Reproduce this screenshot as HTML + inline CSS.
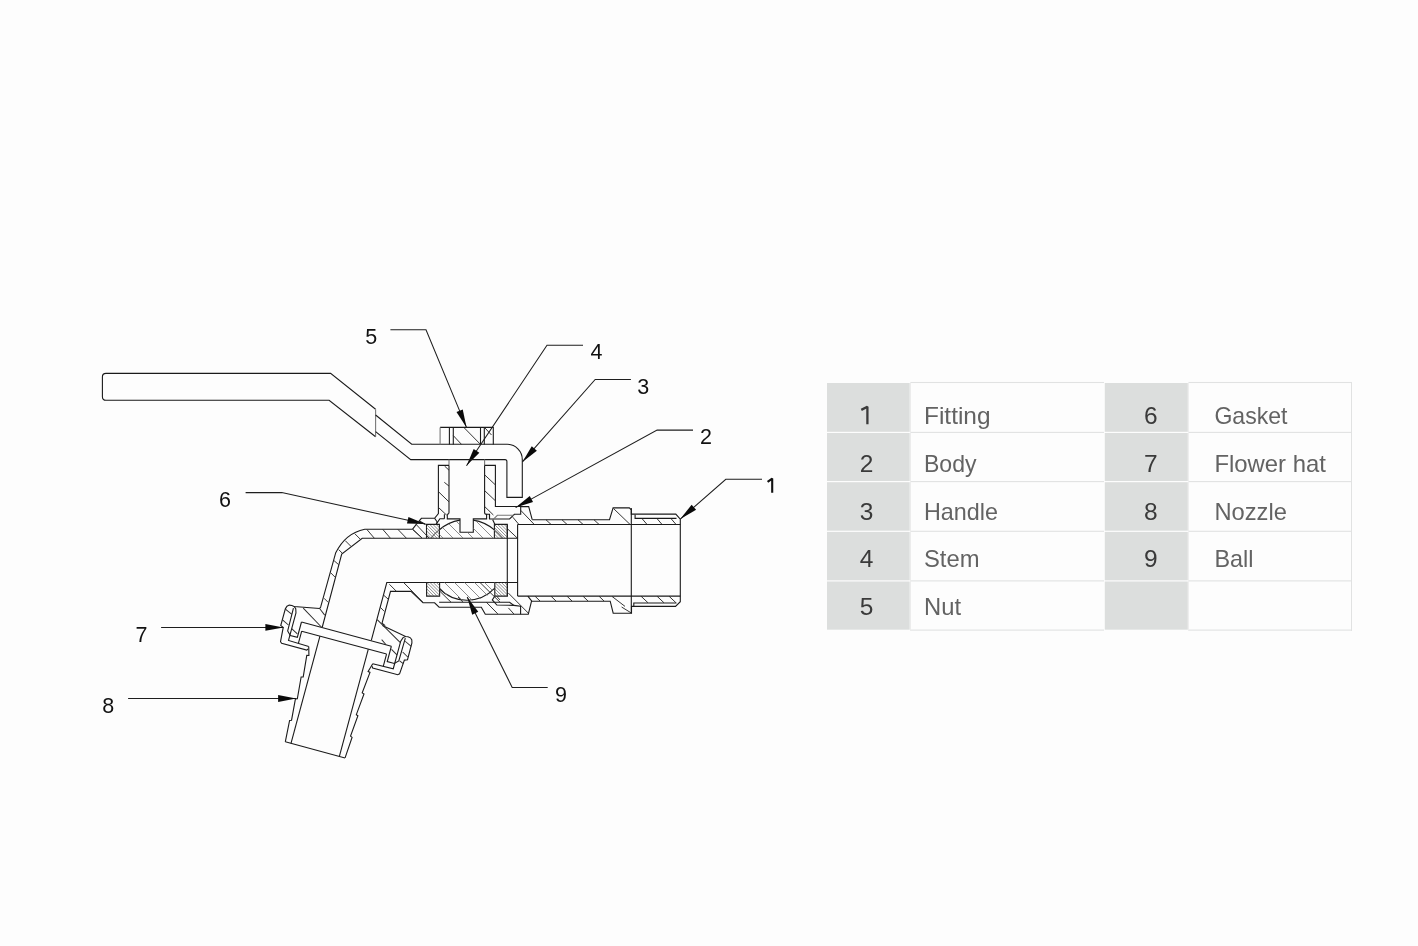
<!DOCTYPE html>
<html><head><meta charset="utf-8"><title>Ball valve tap</title>
<style>
html,body{margin:0;padding:0;background:#fdfdfd;width:1418px;height:946px;overflow:hidden}
svg{display:block;position:absolute;left:0;top:0;will-change:transform}
.m{fill:none;stroke:#1a1a1a;stroke-width:1.1;stroke-linejoin:miter;stroke-linecap:butt}
.h{fill:none;stroke:#2a2a2a;stroke-width:0.95}
.th{fill:none;stroke:#777;stroke-width:1.1}
.hl{fill:none;stroke:#666;stroke-width:0.75}
.hd{fill:none;stroke:#555;stroke-width:0.65}
.ld{fill:none;stroke:#1e1e1e;stroke-width:1.05}
.ar{fill:#0a0a0a;stroke:none}
.lb{font-family:"Liberation Sans",sans-serif;font-size:21.5px;fill:#111}
.dg{font-family:"Liberation Sans",sans-serif;font-size:24.5px;fill:#3a3a3a}
.nm{font-family:"Liberation Sans",sans-serif;font-size:24px;fill:#636363}
</style></head>
<body>
<svg width="1418" height="946" viewBox="0 0 1418 946">
<defs>
<clipPath id="cg">
<rect x="426.5" y="524.4" width="12.9" height="13.8"/>
<rect x="494.4" y="524.4" width="12.9" height="13.8"/>
<rect x="426.6" y="582.3" width="13" height="13.8"/>
<rect x="494.8" y="582.3" width="12.6" height="13.7"/>
</clipPath>
<clipPath id="cb">
<path d="M439.4,538.2 V529.8 A42,42 0 0 1 460,520.2 V532.2 H473.3 V520.2 A42,42 0 0 1 494.4,529.8 V538.2 Z"/>
<path d="M439.6,582.3 H494.8 V589.5 A38.6,38.6 0 0 1 439.6,589.5 Z"/>
</clipPath>
</defs>
<rect x="910" y="381.95" width="194" height="1.1" fill="#e1e2e2"/>
<rect x="910" y="431.85" width="194" height="1.1" fill="#e1e2e2"/>
<rect x="910" y="481.05" width="194" height="1.1" fill="#e1e2e2"/>
<rect x="910" y="530.75" width="194" height="1.1" fill="#e1e2e2"/>
<rect x="910" y="580.35" width="194" height="1.1" fill="#e1e2e2"/>
<rect x="910" y="629.55" width="194" height="1.1" fill="#e1e2e2"/>
<rect x="1188" y="381.95" width="164" height="1.1" fill="#e1e2e2"/>
<rect x="1188" y="431.85" width="164" height="1.1" fill="#e1e2e2"/>
<rect x="1188" y="481.05" width="164" height="1.1" fill="#e1e2e2"/>
<rect x="1188" y="530.75" width="164" height="1.1" fill="#e1e2e2"/>
<rect x="1188" y="580.35" width="164" height="1.1" fill="#e1e2e2"/>
<rect x="1188" y="629.55" width="164" height="1.1" fill="#e1e2e2"/>
<rect x="910" y="382" width="1" height="249" fill="#ececec"/>
<rect x="1351" y="382" width="1" height="249" fill="#e1e2e2"/>
<rect x="1188" y="382" width="1" height="249" fill="#eeeeee"/>
<rect x="827" y="383" width="82.7" height="48.8" fill="#dcdedd"/>
<rect x="827" y="433" width="82.7" height="48" fill="#dcdedd"/>
<rect x="827" y="482.2" width="82.7" height="48.5" fill="#dcdedd"/>
<rect x="827" y="531.9" width="82.7" height="48.4" fill="#dcdedd"/>
<rect x="827" y="581.5" width="82.7" height="48.2" fill="#dcdedd"/>
<rect x="1104.8" y="383" width="83" height="48.8" fill="#dcdedd"/>
<rect x="1104.8" y="433" width="83" height="48" fill="#dcdedd"/>
<rect x="1104.8" y="482.2" width="83" height="48.5" fill="#dcdedd"/>
<rect x="1104.8" y="531.9" width="83" height="48.4" fill="#dcdedd"/>
<rect x="1104.8" y="581.5" width="83" height="48.2" fill="#dcdedd"/>
<path d="M867.4,424.2 V406.8 L861.3,409.9" fill="none" stroke="#3a3a3a" stroke-width="2.3" stroke-linejoin="bevel"/>
<text class="nm" x="924" y="424.2" textLength="66.5" lengthAdjust="spacingAndGlyphs">Fitting</text>
<text class="dg" x="1150.7" y="424.2" text-anchor="middle">6</text>
<text class="nm" x="1214.4" y="424.2" textLength="73" lengthAdjust="spacingAndGlyphs">Gasket</text>
<text class="dg" x="866.5" y="472.1" text-anchor="middle">2</text>
<text class="nm" x="924" y="472.1" textLength="52.5" lengthAdjust="spacingAndGlyphs">Body</text>
<text class="dg" x="1150.7" y="472.1" text-anchor="middle">7</text>
<text class="nm" x="1214.4" y="472.1" textLength="111.5" lengthAdjust="spacingAndGlyphs">Flower hat</text>
<text class="dg" x="866.5" y="520" text-anchor="middle">3</text>
<text class="nm" x="924" y="520" textLength="74" lengthAdjust="spacingAndGlyphs">Handle</text>
<text class="dg" x="1150.7" y="520" text-anchor="middle">8</text>
<text class="nm" x="1214.4" y="520" textLength="72.5" lengthAdjust="spacingAndGlyphs">Nozzle</text>
<text class="dg" x="866.5" y="567.1" text-anchor="middle">4</text>
<text class="nm" x="924" y="567.1" textLength="55.5" lengthAdjust="spacingAndGlyphs">Stem</text>
<text class="dg" x="1150.7" y="567.1" text-anchor="middle">9</text>
<text class="nm" x="1214.4" y="567.1" textLength="39" lengthAdjust="spacingAndGlyphs">Ball</text>
<text class="dg" x="866.5" y="615.1" text-anchor="middle">5</text>
<text class="nm" x="924" y="615.1" textLength="37" lengthAdjust="spacingAndGlyphs">Nut</text>
<polyline class="ld" points="390.4,329.7 426,329.7 466.5,427.4"/>
<polygon class="ar" points="466.5,427.4 456.47,412.07 462.75,409.47"/>
<polyline class="ld" points="583,345.3 547,345.3 466.5,465.8"/>
<polygon class="ar" points="466.5,465.8 473.67,448.94 479.33,452.72"/>
<polyline class="ld" points="630.9,379.4 595.2,379.4 522.4,461.9"/>
<polygon class="ar" points="522.4,461.9 531.76,446.15 536.86,450.65"/>
<polyline class="ld" points="693,430.1 657.1,430.1 515.6,507.6"/>
<polygon class="ar" points="515.6,507.6 529.75,495.97 533.02,501.94"/>
<polyline class="ld" points="762,479.3 725.8,479.3 680.3,519.1"/>
<polygon class="ar" points="680.3,519.1 691.61,504.69 696.09,509.81"/>
<polyline class="ld" points="245.6,492.6 281.8,492.6 425.3,524.1"/>
<polygon class="ar" points="425.3,524.1 406.99,523.56 408.45,516.92"/>
<polyline class="ld" points="161.1,627.4 283.4,627.4"/>
<polygon class="ar" points="283.4,627.4 265.4,630.8 265.4,624"/>
<polyline class="ld" points="128.1,698.5 296.1,698.5"/>
<polygon class="ar" points="296.1,698.5 278.1,701.9 278.1,695.1"/>
<polyline class="ld" points="547.7,687.4 512.2,687.4 467.2,597.1"/>
<polygon class="ar" points="467.2,597.1 478.27,611.69 472.19,614.73"/>
<path class="m" d="M375.6,409.3 L330.6,373.4 H106 Q102.4,373.4 102.4,377 V396.7 Q102.4,400.3 106,400.3 H329.1 L375.6,436.8"/>
<line class="th" x1="375.6" y1="409.3" x2="375.6" y2="436.8"/>
<path class="m" d="M375.6,415 L411.7,444.3 H507.2 A15.2,15.2 0 0 1 522.3,459.5 V497.4 H506.9 V461.6 Q506.9,459.6 505,459.6 H410.7 L375.6,431.6"/>
<path class="m" d="M440.1,427.4 H493.3 V444.4"/>
<line class="th" x1="440.1" y1="427.4" x2="440.1" y2="444.4"/>
<line class="m" x1="449.4" y1="427.4" x2="449.4" y2="444.4"/>
<line class="m" x1="453.3" y1="427.4" x2="453.3" y2="444.4"/>
<line class="m" x1="480.5" y1="427.4" x2="480.5" y2="444.4"/>
<line class="m" x1="484.3" y1="427.4" x2="484.3" y2="444.4"/>
<line class="h" x1="463.8" y1="427.4" x2="480.5" y2="444.4"/>
<line class="h" x1="453.3" y1="435.6" x2="461.5" y2="444.4"/>
<line class="h" x1="485" y1="428" x2="491.5" y2="435"/>
<line class="th" x1="449" y1="459.6" x2="449" y2="465.4"/>
<line class="th" x1="484.6" y1="459.6" x2="484.6" y2="465.4"/>
<path class="m" d="M449,465.4 V512.4 Q449,514.3 447.3,514.3 V518.9 H460 V532.2 H473.3 V518.9 H486.6 V514.3 Q484.6,514.3 484.6,512.4 V465.4"/>
<line class="m" x1="444.4" y1="514.3" x2="444.4" y2="518.8"/>
<line class="m" x1="489.5" y1="514.3" x2="489.5" y2="519"/>
<path class="m" d="M449,465.4 H438.4 V513.5 L434.6,518.3 H421.4 L416.1,524.6 L412.4,529.4"/>
<polyline class="m" points="434.6,518.3 437.2,522 436.2,524.1"/>
<polyline class="m" points="444.4,518.8 439.9,518.8 436.6,523.6"/>
<polyline class="m" points="419.3,520.9 425.6,524.4"/>
<path class="m" d="M484.6,465.4 H495.4 V506.5 H520.7 V514.3 H514.4 L509.6,519 H489.5 V514.3 H486.6"/>
<polyline class="th" points="492.7,519.8 497.4,515.3 513.8,515.3"/>
<polyline class="m" points="492.7,519.8 494.8,524.3"/>
<line class="h" x1="444.6" y1="466.1" x2="449" y2="470.2"/>
<line class="h" x1="444.3" y1="482.3" x2="449" y2="486.1"/>
<line class="h" x1="438.6" y1="491.8" x2="449" y2="501.9"/>
<line class="h" x1="438.6" y1="507.6" x2="446.5" y2="515"/>
<line class="h" x1="484.5" y1="474.7" x2="495.3" y2="484.8"/>
<line class="h" x1="484.5" y1="490.5" x2="495.3" y2="500.7"/>
<line class="h" x1="484.5" y1="506.4" x2="493.4" y2="515"/>
<line class="h" x1="512.8" y1="517.2" x2="518.6" y2="524.1"/>
<line class="h" x1="520.7" y1="510.3" x2="534.4" y2="524.6"/>
<line class="h" x1="507.5" y1="528.8" x2="517" y2="537.8"/>
<line class="h" x1="412.4" y1="529.4" x2="421.9" y2="537.8"/>
<polyline class="m" points="520.7,506.6 528.7,506.6 532.2,519.7"/>
<path class="m" d="M426.5,538.2 V524.4 H439.4 V538.2"/>
<path class="m" d="M494.4,538.2 V524.4 H507.3 V538.2"/>
<path class="m" d="M426.6,582.3 V596.1 H439.6 V582.3"/>
<path class="m" d="M494.8,582.3 V596.1 H507.4 V582.3"/>
<path class="m" d="M439.4,529.77 A42.0,42.0 0 0 1 460,520.15"/>
<path class="m" d="M473.3,520.11 A42.0,42.0 0 0 1 494.4,529.94"/>
<path class="m" d="M439.6,588.99 A38.6,38.6 0 0 0 494.8,588.17"/>
<path class="th" d="M431,538.2 A42.0,42.0 0 0 1 439.4,529.77"/>
<path class="th" d="M494.4,529.94 A42.0,42.0 0 0 1 502.6,538.2"/>
<path class="m" d="M412.3,529.2 H364.8 Q345.5,533 335.6,553.1 L320.7,606.9 Q320.2,608 319.3,608.6"/>
<path class="m" d="M517.6,538.3 H362.2 L341.7,554.1 L322.3,627"/>
<path class="m" d="M517.6,582.5 H386.8 L371.3,640.3"/>
<path class="m" d="M385.2,625.6 L382,623.3 L390.5,591.4 H411 L423,602.8 H434.6 L439.1,607.2 H481.3 L485.3,614.2 H528.3 L531.6,600.9 L527.8,596.1"/>
<polyline class="m" points="439.1,602.2 509.6,602.2 513.9,605.4 520.6,606.2 520.6,614.2"/>
<polyline class="m" points="494.8,596.1 492.3,599.9 496.9,605 513.9,605.4"/>
<line class="m" x1="507.3" y1="524.4" x2="507.3" y2="596.1"/>
<line class="h" x1="366.8" y1="529.4" x2="374.3" y2="538.2"/>
<line class="h" x1="382.8" y1="529.4" x2="390.4" y2="538.2"/>
<line class="h" x1="397.9" y1="529.4" x2="406.4" y2="538.2"/>
<line class="h" x1="413" y1="529.4" x2="422" y2="538.2"/>
<line class="h" x1="416.3" y1="524.6" x2="429" y2="538.1"/>
<line class="h" x1="354.7" y1="533.6" x2="360.2" y2="539.1"/>
<line class="h" x1="345.2" y1="540.6" x2="351.2" y2="546.6"/>
<line class="h" x1="338.7" y1="549.6" x2="342.7" y2="553.6"/>
<line class="h" x1="334.1" y1="560.7" x2="338.7" y2="564.7"/>
<line class="h" x1="330.6" y1="572.7" x2="335.6" y2="577.7"/>
<line class="h" x1="324.1" y1="598.3" x2="328.1" y2="602.3"/>
<line class="h" x1="389.4" y1="584.3" x2="396.4" y2="591.3"/>
<line class="h" x1="403.9" y1="582.8" x2="423" y2="602.3"/>
<line class="h" x1="383.8" y1="595.3" x2="388.4" y2="599.3"/>
<line class="h" x1="380.3" y1="607.3" x2="384.3" y2="611.4"/>
<line class="h" x1="439.6" y1="591" x2="451" y2="602.2"/>
<line class="h" x1="458" y1="597" x2="463" y2="602.2"/>
<line class="h" x1="480" y1="582.5" x2="500" y2="602.2"/>
<line class="h" x1="508.4" y1="593.1" x2="528.2" y2="613"/>
<line class="h" x1="486.3" y1="602.2" x2="497.8" y2="613.9"/>
<line class="h" x1="508.4" y1="607.9" x2="513.9" y2="614"/>
<line class="h" x1="496.9" y1="596.5" x2="499.9" y2="599.9"/>
<g clip-path="url(#cb)">
<line class="hl" x1="380" y1="515" x2="410" y2="545"/>
<line class="hl" x1="380" y1="578" x2="410" y2="608"/>
<line class="hl" x1="390" y1="515" x2="420" y2="545"/>
<line class="hl" x1="390" y1="578" x2="420" y2="608"/>
<line class="hl" x1="400" y1="515" x2="430" y2="545"/>
<line class="hl" x1="400" y1="578" x2="430" y2="608"/>
<line class="hl" x1="410" y1="515" x2="440" y2="545"/>
<line class="hl" x1="410" y1="578" x2="440" y2="608"/>
<line class="hl" x1="420" y1="515" x2="450" y2="545"/>
<line class="hl" x1="420" y1="578" x2="450" y2="608"/>
<line class="hl" x1="430" y1="515" x2="460" y2="545"/>
<line class="hl" x1="430" y1="578" x2="460" y2="608"/>
<line class="hl" x1="440" y1="515" x2="470" y2="545"/>
<line class="hl" x1="440" y1="578" x2="470" y2="608"/>
<line class="hl" x1="450" y1="515" x2="480" y2="545"/>
<line class="hl" x1="450" y1="578" x2="480" y2="608"/>
<line class="hl" x1="460" y1="515" x2="490" y2="545"/>
<line class="hl" x1="460" y1="578" x2="490" y2="608"/>
<line class="hl" x1="470" y1="515" x2="500" y2="545"/>
<line class="hl" x1="470" y1="578" x2="500" y2="608"/>
<line class="hl" x1="480" y1="515" x2="510" y2="545"/>
<line class="hl" x1="480" y1="578" x2="510" y2="608"/>
<line class="hl" x1="490" y1="515" x2="520" y2="545"/>
<line class="hl" x1="490" y1="578" x2="520" y2="608"/>
<line class="hl" x1="500" y1="515" x2="530" y2="545"/>
<line class="hl" x1="500" y1="578" x2="530" y2="608"/>
<line class="hl" x1="510" y1="515" x2="540" y2="545"/>
<line class="hl" x1="510" y1="578" x2="540" y2="608"/>
</g>
<g clip-path="url(#cg)">
<line class="hd" x1="413.7" y1="524.4" x2="427.7" y2="538.4"/>
<line class="hd" x1="416.9" y1="524.4" x2="430.9" y2="538.4"/>
<line class="hd" x1="420.1" y1="524.4" x2="434.1" y2="538.4"/>
<line class="hd" x1="423.3" y1="524.4" x2="437.3" y2="538.4"/>
<line class="hd" x1="426.5" y1="524.4" x2="440.5" y2="538.4"/>
<line class="hd" x1="429.7" y1="524.4" x2="443.7" y2="538.4"/>
<line class="hd" x1="432.9" y1="524.4" x2="446.9" y2="538.4"/>
<line class="hd" x1="436.1" y1="524.4" x2="450.1" y2="538.4"/>
<line class="hd" x1="439.3" y1="524.4" x2="453.3" y2="538.4"/>
<line class="hd" x1="442.5" y1="524.4" x2="456.5" y2="538.4"/>
<line class="hd" x1="445.7" y1="524.4" x2="459.7" y2="538.4"/>
<line class="hd" x1="448.9" y1="524.4" x2="462.9" y2="538.4"/>
<line class="hd" x1="452.1" y1="524.4" x2="466.1" y2="538.4"/>
<line class="hd" x1="481.6" y1="524.4" x2="495.6" y2="538.4"/>
<line class="hd" x1="484.8" y1="524.4" x2="498.8" y2="538.4"/>
<line class="hd" x1="488" y1="524.4" x2="502" y2="538.4"/>
<line class="hd" x1="491.2" y1="524.4" x2="505.2" y2="538.4"/>
<line class="hd" x1="494.4" y1="524.4" x2="508.4" y2="538.4"/>
<line class="hd" x1="497.6" y1="524.4" x2="511.6" y2="538.4"/>
<line class="hd" x1="500.8" y1="524.4" x2="514.8" y2="538.4"/>
<line class="hd" x1="504" y1="524.4" x2="518" y2="538.4"/>
<line class="hd" x1="507.2" y1="524.4" x2="521.2" y2="538.4"/>
<line class="hd" x1="510.4" y1="524.4" x2="524.4" y2="538.4"/>
<line class="hd" x1="513.6" y1="524.4" x2="527.6" y2="538.4"/>
<line class="hd" x1="516.8" y1="524.4" x2="530.8" y2="538.4"/>
<line class="hd" x1="520" y1="524.4" x2="534" y2="538.4"/>
<line class="hd" x1="413.8" y1="582.3" x2="427.8" y2="596.3"/>
<line class="hd" x1="417" y1="582.3" x2="431" y2="596.3"/>
<line class="hd" x1="420.2" y1="582.3" x2="434.2" y2="596.3"/>
<line class="hd" x1="423.4" y1="582.3" x2="437.4" y2="596.3"/>
<line class="hd" x1="426.6" y1="582.3" x2="440.6" y2="596.3"/>
<line class="hd" x1="429.8" y1="582.3" x2="443.8" y2="596.3"/>
<line class="hd" x1="433" y1="582.3" x2="447" y2="596.3"/>
<line class="hd" x1="436.2" y1="582.3" x2="450.2" y2="596.3"/>
<line class="hd" x1="439.4" y1="582.3" x2="453.4" y2="596.3"/>
<line class="hd" x1="442.6" y1="582.3" x2="456.6" y2="596.3"/>
<line class="hd" x1="445.8" y1="582.3" x2="459.8" y2="596.3"/>
<line class="hd" x1="449" y1="582.3" x2="463" y2="596.3"/>
<line class="hd" x1="452.2" y1="582.3" x2="466.2" y2="596.3"/>
<line class="hd" x1="482" y1="582.3" x2="496" y2="596.3"/>
<line class="hd" x1="485.2" y1="582.3" x2="499.2" y2="596.3"/>
<line class="hd" x1="488.4" y1="582.3" x2="502.4" y2="596.3"/>
<line class="hd" x1="491.6" y1="582.3" x2="505.6" y2="596.3"/>
<line class="hd" x1="494.8" y1="582.3" x2="508.8" y2="596.3"/>
<line class="hd" x1="498" y1="582.3" x2="512" y2="596.3"/>
<line class="hd" x1="501.2" y1="582.3" x2="515.2" y2="596.3"/>
<line class="hd" x1="504.4" y1="582.3" x2="518.4" y2="596.3"/>
<line class="hd" x1="507.6" y1="582.3" x2="521.6" y2="596.3"/>
<line class="hd" x1="510.8" y1="582.3" x2="524.8" y2="596.3"/>
<line class="hd" x1="514" y1="582.3" x2="528" y2="596.3"/>
<line class="hd" x1="517.2" y1="582.3" x2="531.2" y2="596.3"/>
<line class="hd" x1="520.4" y1="582.3" x2="534.4" y2="596.3"/>
</g>
<polyline class="m" points="532.2,519.7 609.5,519.6 613.1,507.9 629.3,507.9 631.3,509.8 631.3,514.1 675.8,514.1 680.3,519.1 680.3,601.7 675.5,606.4 631.5,606.4 631.5,613.2 613.2,613.2 610.2,601.2 531.6,601.2"/>
<line class="m" x1="517.6" y1="524.5" x2="680.3" y2="524.5"/>
<line class="m" x1="517.6" y1="596.1" x2="680.3" y2="596.1"/>
<line class="m" x1="517.6" y1="524.5" x2="517.6" y2="596.1"/>
<line class="m" x1="631.3" y1="507.9" x2="631.3" y2="613.2"/>
<polyline class="m" points="635.1,514.8 635.1,518.4 676.5,518.4"/>
<polyline class="m" points="633.8,606.2 633.8,603 676.5,603"/>
<line class="h" x1="546" y1="519.8" x2="551" y2="524.4"/>
<line class="h" x1="562" y1="519.8" x2="567" y2="524.4"/>
<line class="h" x1="578" y1="519.8" x2="583" y2="524.4"/>
<line class="h" x1="594" y1="519.8" x2="599" y2="524.4"/>
<line class="h" x1="613.5" y1="508.5" x2="630" y2="524.4"/>
<line class="h" x1="621.6" y1="607" x2="631.3" y2="613"/>
<line class="h" x1="642" y1="518.6" x2="647" y2="524.4"/>
<line class="h" x1="657" y1="518.6" x2="662" y2="524.4"/>
<line class="h" x1="671" y1="518.6" x2="676" y2="524.4"/>
<line class="h" x1="535" y1="596.2" x2="540" y2="601"/>
<line class="h" x1="551" y1="596.2" x2="556" y2="601"/>
<line class="h" x1="567" y1="596.2" x2="572" y2="601"/>
<line class="h" x1="583" y1="596.2" x2="588" y2="601"/>
<line class="h" x1="599" y1="596.2" x2="604" y2="601"/>
<line class="h" x1="612" y1="596.4" x2="625" y2="606.4"/>
<line class="h" x1="641" y1="596.2" x2="648" y2="602.8"/>
<line class="h" x1="657" y1="596.2" x2="664" y2="602.8"/>
<line class="h" x1="669" y1="596.2" x2="676" y2="602.8"/>
<g transform="translate(335.6,553.1) rotate(15.1)">
<polyline class="m" points="-1,57.7 -26.2,62.3 -28.6,61.9 -31.2,62.3 -33.1,64 -34,66.9 -34.1,84.2 -31.2,85.4 -30.1,99.9 -28.6,101.2 -2.6,101.2 -1.6,99.8"/>
<polyline class="m" points="64.1,57.7 89.3,62.3 91.7,61.9 94.3,62.3 96.2,64 97.1,66.9 97.2,84.2 94.3,85.4 93.2,99.9 91.7,101.2 65.7,101.2 64.7,99.8"/>
<polyline class="m" points="-26.2,62.3 -24,64 -22.7,68 -22.7,96.6 -1.6,97.2"/>
<polyline class="m" points="89.3,62.3 87.1,64 85.8,68 85.8,96.6 64.7,97.2"/>
<polyline class="m" points="-26.4,64 -26,87.6 -22.3,91.3 -15,91.2 -15,75.4"/>
<polyline class="m" points="89.5,64 89.1,87.6 85.4,91.3 78.1,91.2 78.1,75.4"/>
<polyline class="m" points="-15,75.4 78.1,75.4"/>
<polyline class="m" points="-12.4,84.2 75.5,84.2"/>
<polyline class="m" points="-12.4,84.2 -12.4,96.9"/>
<polyline class="m" points="75.5,84.2 75.5,96.9"/>
<polyline class="m" points="6.5,84.2 6.5,195.3"/>
<polyline class="m" points="56.6,84.2 56.6,195.3"/>
<polyline class="m" points="-1.6,97.2 0.9,105.8 -1.2,106.2 1,128 -1,128.6 1,150.6 -0.8,151.2 1,172.8 -0.8,173.6 0.6,195.3"/>
<polyline class="m" points="64.7,97.2 62.2,105.8 64.3,106.2 62.1,128 64.1,128.6 62.1,150.6 63.9,151.2 62.1,172.8 63.9,173.6 62.5,195.3"/>
<polyline class="m" points="0.6,195.3 62.5,195.3"/>
<line class="h" x1="-33.9" y1="67.2" x2="-26.2" y2="70.6"/>
<line class="h" x1="-33.9" y1="78.2" x2="-26.8" y2="81.7"/>
<line class="h" x1="-22.7" y1="84.4" x2="-15.9" y2="88"/>
<line class="h" x1="-16.9" y1="61.6" x2="5.8" y2="75.2"/>
<line class="h" x1="-1" y1="57.7" x2="5.6" y2="62.7"/>
<line class="h" x1="57.5" y1="53.4" x2="85.5" y2="69.4"/>
<line class="h" x1="67" y1="71.5" x2="72.6" y2="75.3"/>
<line class="h" x1="79.1" y1="78.4" x2="86" y2="82.4"/>
<line class="h" x1="90.1" y1="67" x2="97.3" y2="70.3"/>
<line class="h" x1="90.5" y1="78" x2="96.7" y2="81.5"/>
<line class="h" x1="89.9" y1="87.4" x2="94.1" y2="89"/>
</g>
<text class="lb" x="365.2" y="344.1">5</text>
<text class="lb" x="590.4" y="359.1">4</text>
<text class="lb" x="637.3" y="394.1">3</text>
<text class="lb" x="700.1" y="444.1">2</text>
<text class="lb" x="219.1" y="507.3">6</text>
<text class="lb" x="135.5" y="642.2">7</text>
<text class="lb" x="102.2" y="713.3">8</text>
<text class="lb" x="555.1" y="702.2">9</text>
<path d="M772.2,492.8 V478.6 L767.6,481.9" fill="none" stroke="#111" stroke-width="2.1" stroke-linejoin="bevel"/>
</svg>
</body></html>
